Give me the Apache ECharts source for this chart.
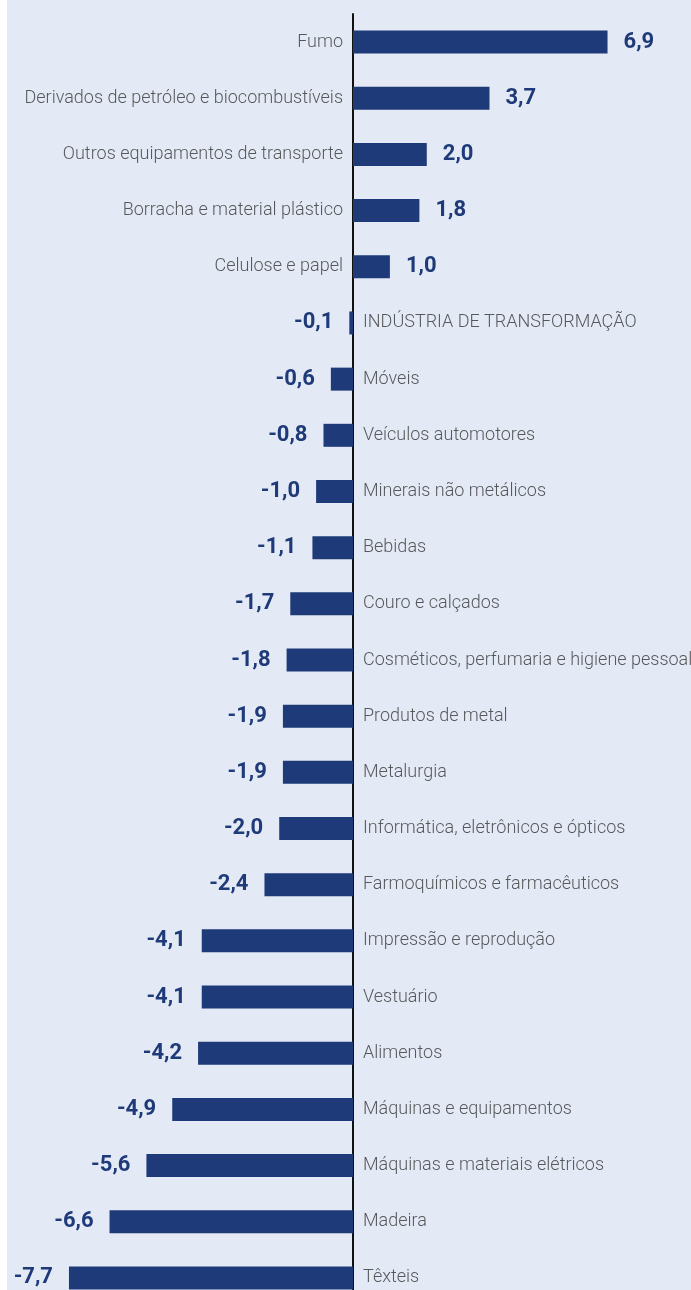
<!DOCTYPE html>
<html>
<head>
<meta charset="utf-8">
<script src="https://cdn.jsdelivr.net/npm/echarts@6/dist/echarts.min.js"></script>
<style>
  html, body { margin: 0; padding: 0; background: #ffffff; }
  #chart { position: absolute; left: 7px; top: 0; width: 684px; height: 1290px; }
</style>
</head>
<body>
<div id="chart"></div>
<script>
// setores (de cima para baixo)
var setores = [
    "Fumo",
    "Derivados de petróleo e biocombustíveis",
    "Outros equipamentos de transporte",
    "Borracha e material plástico",
    "Celulose e papel",
    "INDÚSTRIA DE TRANSFORMAÇÃO",
    "Móveis",
    "Veículos automotores",
    "Minerais não metálicos",
    "Bebidas",
    "Couro e calçados",
    "Cosméticos, perfumaria e higiene pessoal",
    "Produtos de metal",
    "Metalurgia",
    "Informática, eletrônicos e ópticos",
    "Farmoquímicos e farmacêuticos",
    "Impressão e reprodução",
    "Vestuário",
    "Alimentos",
    "Máquinas e equipamentos",
    "Máquinas e materiais elétricos",
    "Madeira",
    "Têxteis"
];
// variação (%)
var variacao = [6.9, 3.7, 2.0, 1.8, 1.0, -0.1, -0.6, -0.8, -1.0, -1.1, -1.7, -1.8,
    -1.9, -1.9, -2.0, -2.4, -4.1, -4.1, -4.2, -4.9, -5.6, -6.6, -7.7];

var azul = "#1e3a78";

var chart = echarts.init(document.getElementById("chart"));

// barras com o valor do lado de fora
var barData = variacao.map(function (v) {
    return {
        value: v,
        label: { position: v >= 0 ? "right" : "left" }
    };
});

// nomes dos setores ancorados no zero, do lado oposto da barra
var nomesData = setores.map(function (s, i) {
    return {
        value: [0, s],
        label: { position: variacao[i] >= 0 ? "left" : "right" }
    };
});

var option = {
    backgroundColor: "#e3e9f5",
    animation: false,
    grid: { left: 14, top: 14, width: 664, height: 1292, containLabel: false, outerBoundsMode: "none" },
    xAxis: {
        type: "value",
        min: -9,
        max: 9,
        show: false
    },
    yAxis: {
        type: "category",
        data: setores,
        inverse: true,
        axisLine: { show: true, onZero: true, lineStyle: { color: "#111", width: 2 } },
        axisTick: { show: false },
        splitLine: { show: false },
        axisLabel: { show: false }
    },
    series: [{
        type: "bar",
        data: barData,
        barWidth: 23,
        itemStyle: { color: azul },
        label: {
            show: true,
            distance: 16,
            fontFamily: "Roboto",
            fontWeight: "bold",
            fontSize: 22,
            color: azul,
            formatter: function (p) { return p.value.toFixed(1).replace(".", ","); }
        }
    }, {
        type: "scatter",
        data: nomesData,
        symbolSize: 0,
        silent: true,
        z: 3,
        label: {
            show: true,
            distance: 10,
            fontFamily: "Roboto",
            fontWeight: 300,
            fontSize: 18,
            color: "#333333",
            formatter: function (p) { return p.value[1]; }
        }
    }]
};

chart.setOption(option);
</script>
</body>
</html>
